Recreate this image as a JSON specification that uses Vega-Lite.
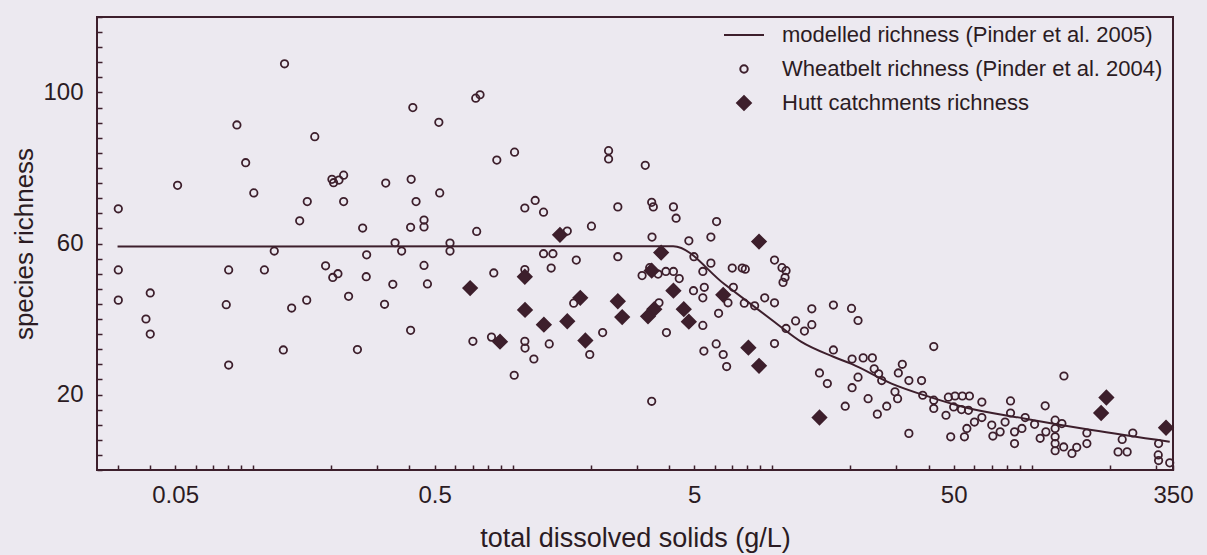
{
  "$schema": "https://vega.github.io/schema/vega-lite/v6.json",
  "width": 1076,
  "height": 453,
  "autosize": {"type": "none"},
  "padding": {"left": 97, "top": 17, "right": 34, "bottom": 85},
  "background": "#ece9f0",
  "config": {
    "view": {"stroke": "#3d1f2c", "strokeWidth": 2},
    "font": "Liberation Sans",
    "axis": {
      "grid": false,
      "domain": false,
      "tickColor": "#3d1f2c",
      "tickWidth": 1.5,
      "labelFont": "Liberation Sans",
      "labelFontSize": 24,
      "labelColor": "#2b1b23",
      "titleFont": "Liberation Sans",
      "titleFontWeight": "normal",
      "titleColor": "#2b1b23"
    }
  },
  "datasets": {
    "model": [
      {"tds": 0.03, "richness": 59.2},
      {"tds": 4.15, "richness": 59.3},
      {"tds": 6.55, "richness": 49.2},
      {"tds": 10.2, "richness": 39.2},
      {"tds": 12.9, "richness": 34.0},
      {"tds": 17.2, "richness": 30.0},
      {"tds": 20.2, "richness": 28.1},
      {"tds": 28.8, "richness": 22.9},
      {"tds": 40.6, "richness": 19.3},
      {"tds": 54.5, "richness": 16.7},
      {"tds": 94.3, "richness": 13.6},
      {"tds": 170, "richness": 10.6},
      {"tds": 340, "richness": 7.5}
    ],
    "obs": [
      {"tds": 0.0302, "richness": 69.2, "series": "Wheatbelt richness (Pinder et al. 2004)"},
      {"tds": 0.0511, "richness": 75.4, "series": "Wheatbelt richness (Pinder et al. 2004)"},
      {"tds": 0.0865, "richness": 91.4, "series": "Wheatbelt richness (Pinder et al. 2004)"},
      {"tds": 0.132, "richness": 107.6, "series": "Wheatbelt richness (Pinder et al. 2004)"},
      {"tds": 0.0935, "richness": 81.4, "series": "Wheatbelt richness (Pinder et al. 2004)"},
      {"tds": 0.1005, "richness": 73.4, "series": "Wheatbelt richness (Pinder et al. 2004)"},
      {"tds": 0.1726, "richness": 88.3, "series": "Wheatbelt richness (Pinder et al. 2004)"},
      {"tds": 0.412, "richness": 96.0, "series": "Wheatbelt richness (Pinder et al. 2004)"},
      {"tds": 0.519, "richness": 92.1, "series": "Wheatbelt richness (Pinder et al. 2004)"},
      {"tds": 0.201, "richness": 77.0, "series": "Wheatbelt richness (Pinder et al. 2004)"},
      {"tds": 0.214, "richness": 76.8, "series": "Wheatbelt richness (Pinder et al. 2004)"},
      {"tds": 0.223, "richness": 78.1, "series": "Wheatbelt richness (Pinder et al. 2004)"},
      {"tds": 0.204, "richness": 76.1, "series": "Wheatbelt richness (Pinder et al. 2004)"},
      {"tds": 0.324, "richness": 76.0, "series": "Wheatbelt richness (Pinder et al. 2004)"},
      {"tds": 0.406, "richness": 77.0, "series": "Wheatbelt richness (Pinder et al. 2004)"},
      {"tds": 0.523, "richness": 73.4, "series": "Wheatbelt richness (Pinder et al. 2004)"},
      {"tds": 0.1615, "richness": 71.1, "series": "Wheatbelt richness (Pinder et al. 2004)"},
      {"tds": 0.223, "richness": 71.1, "series": "Wheatbelt richness (Pinder et al. 2004)"},
      {"tds": 0.424, "richness": 71.1, "series": "Wheatbelt richness (Pinder et al. 2004)"},
      {"tds": 0.151, "richness": 66.0, "series": "Wheatbelt richness (Pinder et al. 2004)"},
      {"tds": 0.264, "richness": 64.1, "series": "Wheatbelt richness (Pinder et al. 2004)"},
      {"tds": 0.404, "richness": 64.3, "series": "Wheatbelt richness (Pinder et al. 2004)"},
      {"tds": 0.455, "richness": 66.2, "series": "Wheatbelt richness (Pinder et al. 2004)"},
      {"tds": 0.455, "richness": 64.4, "series": "Wheatbelt richness (Pinder et al. 2004)"},
      {"tds": 0.352, "richness": 60.2, "series": "Wheatbelt richness (Pinder et al. 2004)"},
      {"tds": 0.1205, "richness": 58.0, "series": "Wheatbelt richness (Pinder et al. 2004)"},
      {"tds": 0.373, "richness": 58.0, "series": "Wheatbelt richness (Pinder et al. 2004)"},
      {"tds": 0.2735, "richness": 57.0, "series": "Wheatbelt richness (Pinder et al. 2004)"},
      {"tds": 0.0302, "richness": 53.0, "series": "Wheatbelt richness (Pinder et al. 2004)"},
      {"tds": 0.0804, "richness": 53.0, "series": "Wheatbelt richness (Pinder et al. 2004)"},
      {"tds": 0.1104, "richness": 53.0, "series": "Wheatbelt richness (Pinder et al. 2004)"},
      {"tds": 0.19, "richness": 54.1, "series": "Wheatbelt richness (Pinder et al. 2004)"},
      {"tds": 0.2025, "richness": 51.0, "series": "Wheatbelt richness (Pinder et al. 2004)"},
      {"tds": 0.212, "richness": 52.0, "series": "Wheatbelt richness (Pinder et al. 2004)"},
      {"tds": 0.2725, "richness": 51.2, "series": "Wheatbelt richness (Pinder et al. 2004)"},
      {"tds": 0.455, "richness": 54.2, "series": "Wheatbelt richness (Pinder et al. 2004)"},
      {"tds": 0.469, "richness": 49.3, "series": "Wheatbelt richness (Pinder et al. 2004)"},
      {"tds": 0.345, "richness": 49.2, "series": "Wheatbelt richness (Pinder et al. 2004)"},
      {"tds": 0.0302, "richness": 45.0, "series": "Wheatbelt richness (Pinder et al. 2004)"},
      {"tds": 0.0401, "richness": 46.9, "series": "Wheatbelt richness (Pinder et al. 2004)"},
      {"tds": 0.0787, "richness": 43.8, "series": "Wheatbelt richness (Pinder et al. 2004)"},
      {"tds": 0.1406, "richness": 42.9, "series": "Wheatbelt richness (Pinder et al. 2004)"},
      {"tds": 0.1607, "richness": 45.0, "series": "Wheatbelt richness (Pinder et al. 2004)"},
      {"tds": 0.233, "richness": 46.0, "series": "Wheatbelt richness (Pinder et al. 2004)"},
      {"tds": 0.3206, "richness": 43.9, "series": "Wheatbelt richness (Pinder et al. 2004)"},
      {"tds": 0.0386, "richness": 40.0, "series": "Wheatbelt richness (Pinder et al. 2004)"},
      {"tds": 0.0401, "richness": 36.0, "series": "Wheatbelt richness (Pinder et al. 2004)"},
      {"tds": 0.404, "richness": 37.0, "series": "Wheatbelt richness (Pinder et al. 2004)"},
      {"tds": 0.1306, "richness": 31.8, "series": "Wheatbelt richness (Pinder et al. 2004)"},
      {"tds": 0.252, "richness": 31.9, "series": "Wheatbelt richness (Pinder et al. 2004)"},
      {"tds": 0.0804, "richness": 27.8, "series": "Wheatbelt richness (Pinder et al. 2004)"},
      {"tds": 0.573, "richness": 60.1, "series": "Wheatbelt richness (Pinder et al. 2004)"},
      {"tds": 0.573, "richness": 58.0, "series": "Wheatbelt richness (Pinder et al. 2004)"},
      {"tds": 0.72, "richness": 98.5, "series": "Wheatbelt richness (Pinder et al. 2004)"},
      {"tds": 0.748, "richness": 99.4, "series": "Wheatbelt richness (Pinder et al. 2004)"},
      {"tds": 0.868, "richness": 82.1, "series": "Wheatbelt richness (Pinder et al. 2004)"},
      {"tds": 1.016, "richness": 84.2, "series": "Wheatbelt richness (Pinder et al. 2004)"},
      {"tds": 2.34, "richness": 84.6, "series": "Wheatbelt richness (Pinder et al. 2004)"},
      {"tds": 2.34, "richness": 82.4, "series": "Wheatbelt richness (Pinder et al. 2004)"},
      {"tds": 3.24, "richness": 80.7, "series": "Wheatbelt richness (Pinder et al. 2004)"},
      {"tds": 1.113, "richness": 69.4, "series": "Wheatbelt richness (Pinder et al. 2004)"},
      {"tds": 1.22, "richness": 71.4, "series": "Wheatbelt richness (Pinder et al. 2004)"},
      {"tds": 1.314, "richness": 68.3, "series": "Wheatbelt richness (Pinder et al. 2004)"},
      {"tds": 2.54, "richness": 69.7, "series": "Wheatbelt richness (Pinder et al. 2004)"},
      {"tds": 3.43, "richness": 70.9, "series": "Wheatbelt richness (Pinder et al. 2004)"},
      {"tds": 3.48, "richness": 69.7, "series": "Wheatbelt richness (Pinder et al. 2004)"},
      {"tds": 4.16, "richness": 69.7, "series": "Wheatbelt richness (Pinder et al. 2004)"},
      {"tds": 4.26, "richness": 66.7, "series": "Wheatbelt richness (Pinder et al. 2004)"},
      {"tds": 6.1, "richness": 65.8, "series": "Wheatbelt richness (Pinder et al. 2004)"},
      {"tds": 0.726, "richness": 63.2, "series": "Wheatbelt richness (Pinder et al. 2004)"},
      {"tds": 2.01, "richness": 64.6, "series": "Wheatbelt richness (Pinder et al. 2004)"},
      {"tds": 1.622, "richness": 63.3, "series": "Wheatbelt richness (Pinder et al. 2004)"},
      {"tds": 3.44, "richness": 61.7, "series": "Wheatbelt richness (Pinder et al. 2004)"},
      {"tds": 4.77, "richness": 60.7, "series": "Wheatbelt richness (Pinder et al. 2004)"},
      {"tds": 5.8, "richness": 61.7, "series": "Wheatbelt richness (Pinder et al. 2004)"},
      {"tds": 1.314, "richness": 57.3, "series": "Wheatbelt richness (Pinder et al. 2004)"},
      {"tds": 1.428, "richness": 57.3, "series": "Wheatbelt richness (Pinder et al. 2004)"},
      {"tds": 2.54, "richness": 56.5, "series": "Wheatbelt richness (Pinder et al. 2004)"},
      {"tds": 1.757, "richness": 55.6, "series": "Wheatbelt richness (Pinder et al. 2004)"},
      {"tds": 4.99, "richness": 56.5, "series": "Wheatbelt richness (Pinder et al. 2004)"},
      {"tds": 0.845, "richness": 52.2, "series": "Wheatbelt richness (Pinder et al. 2004)"},
      {"tds": 1.113, "richness": 53.1, "series": "Wheatbelt richness (Pinder et al. 2004)"},
      {"tds": 1.406, "richness": 53.5, "series": "Wheatbelt richness (Pinder et al. 2004)"},
      {"tds": 3.15, "richness": 51.5, "series": "Wheatbelt richness (Pinder et al. 2004)"},
      {"tds": 3.37, "richness": 53.6, "series": "Wheatbelt richness (Pinder et al. 2004)"},
      {"tds": 3.63, "richness": 51.9, "series": "Wheatbelt richness (Pinder et al. 2004)"},
      {"tds": 3.89, "richness": 52.6, "series": "Wheatbelt richness (Pinder et al. 2004)"},
      {"tds": 4.16, "richness": 52.6, "series": "Wheatbelt richness (Pinder et al. 2004)"},
      {"tds": 4.38, "richness": 50.7, "series": "Wheatbelt richness (Pinder et al. 2004)"},
      {"tds": 5.8, "richness": 54.8, "series": "Wheatbelt richness (Pinder et al. 2004)"},
      {"tds": 5.4, "richness": 52.6, "series": "Wheatbelt richness (Pinder et al. 2004)"},
      {"tds": 7.01, "richness": 53.5, "series": "Wheatbelt richness (Pinder et al. 2004)"},
      {"tds": 7.66, "richness": 53.5, "series": "Wheatbelt richness (Pinder et al. 2004)"},
      {"tds": 7.87, "richness": 53.2, "series": "Wheatbelt richness (Pinder et al. 2004)"},
      {"tds": 10.2, "richness": 55.6, "series": "Wheatbelt richness (Pinder et al. 2004)"},
      {"tds": 10.9, "richness": 53.6, "series": "Wheatbelt richness (Pinder et al. 2004)"},
      {"tds": 11.3, "richness": 52.8, "series": "Wheatbelt richness (Pinder et al. 2004)"},
      {"tds": 11.2, "richness": 51.0, "series": "Wheatbelt richness (Pinder et al. 2004)"},
      {"tds": 11.0, "richness": 49.7, "series": "Wheatbelt richness (Pinder et al. 2004)"},
      {"tds": 4.97, "richness": 47.5, "series": "Wheatbelt richness (Pinder et al. 2004)"},
      {"tds": 5.47, "richness": 48.4, "series": "Wheatbelt richness (Pinder et al. 2004)"},
      {"tds": 5.4, "richness": 45.6, "series": "Wheatbelt richness (Pinder et al. 2004)"},
      {"tds": 7.08, "richness": 48.4, "series": "Wheatbelt richness (Pinder et al. 2004)"},
      {"tds": 6.75, "richness": 44.3, "series": "Wheatbelt richness (Pinder et al. 2004)"},
      {"tds": 7.8, "richness": 44.2, "series": "Wheatbelt richness (Pinder et al. 2004)"},
      {"tds": 8.55, "richness": 43.5, "series": "Wheatbelt richness (Pinder et al. 2004)"},
      {"tds": 9.35, "richness": 45.6, "series": "Wheatbelt richness (Pinder et al. 2004)"},
      {"tds": 10.2, "richness": 44.3, "series": "Wheatbelt richness (Pinder et al. 2004)"},
      {"tds": 6.21, "richness": 41.5, "series": "Wheatbelt richness (Pinder et al. 2004)"},
      {"tds": 1.717, "richness": 44.2, "series": "Wheatbelt richness (Pinder et al. 2004)"},
      {"tds": 3.66, "richness": 44.3, "series": "Wheatbelt richness (Pinder et al. 2004)"},
      {"tds": 11.3, "richness": 37.5, "series": "Wheatbelt richness (Pinder et al. 2004)"},
      {"tds": 12.3, "richness": 39.5, "series": "Wheatbelt richness (Pinder et al. 2004)"},
      {"tds": 0.702, "richness": 34.1, "series": "Wheatbelt richness (Pinder et al. 2004)"},
      {"tds": 0.828, "richness": 35.2, "series": "Wheatbelt richness (Pinder et al. 2004)"},
      {"tds": 1.113, "richness": 34.1, "series": "Wheatbelt richness (Pinder et al. 2004)"},
      {"tds": 1.115, "richness": 32.3, "series": "Wheatbelt richness (Pinder et al. 2004)"},
      {"tds": 1.382, "richness": 33.4, "series": "Wheatbelt richness (Pinder et al. 2004)"},
      {"tds": 1.206, "richness": 29.4, "series": "Wheatbelt richness (Pinder et al. 2004)"},
      {"tds": 2.22, "richness": 36.4, "series": "Wheatbelt richness (Pinder et al. 2004)"},
      {"tds": 1.98, "richness": 30.6, "series": "Wheatbelt richness (Pinder et al. 2004)"},
      {"tds": 3.91, "richness": 36.4, "series": "Wheatbelt richness (Pinder et al. 2004)"},
      {"tds": 5.4, "richness": 38.3, "series": "Wheatbelt richness (Pinder et al. 2004)"},
      {"tds": 1.013, "richness": 25.1, "series": "Wheatbelt richness (Pinder et al. 2004)"},
      {"tds": 5.45, "richness": 31.5, "series": "Wheatbelt richness (Pinder et al. 2004)"},
      {"tds": 6.08, "richness": 33.4, "series": "Wheatbelt richness (Pinder et al. 2004)"},
      {"tds": 6.47, "richness": 30.6, "series": "Wheatbelt richness (Pinder et al. 2004)"},
      {"tds": 6.67, "richness": 27.4, "series": "Wheatbelt richness (Pinder et al. 2004)"},
      {"tds": 10.2, "richness": 33.5, "series": "Wheatbelt richness (Pinder et al. 2004)"},
      {"tds": 3.43, "richness": 18.2, "series": "Wheatbelt richness (Pinder et al. 2004)"},
      {"tds": 13.3, "richness": 36.8, "series": "Wheatbelt richness (Pinder et al. 2004)"},
      {"tds": 14.2, "richness": 38.5, "series": "Wheatbelt richness (Pinder et al. 2004)"},
      {"tds": 14.2, "richness": 42.7, "series": "Wheatbelt richness (Pinder et al. 2004)"},
      {"tds": 17.2, "richness": 43.7, "series": "Wheatbelt richness (Pinder et al. 2004)"},
      {"tds": 20.2, "richness": 42.8, "series": "Wheatbelt richness (Pinder et al. 2004)"},
      {"tds": 21.4, "richness": 39.6, "series": "Wheatbelt richness (Pinder et al. 2004)"},
      {"tds": 17.2, "richness": 31.8, "series": "Wheatbelt richness (Pinder et al. 2004)"},
      {"tds": 15.2, "richness": 25.7, "series": "Wheatbelt richness (Pinder et al. 2004)"},
      {"tds": 16.3, "richness": 22.9, "series": "Wheatbelt richness (Pinder et al. 2004)"},
      {"tds": 19.1, "richness": 16.9, "series": "Wheatbelt richness (Pinder et al. 2004)"},
      {"tds": 20.3, "richness": 29.4, "series": "Wheatbelt richness (Pinder et al. 2004)"},
      {"tds": 22.4, "richness": 29.7, "series": "Wheatbelt richness (Pinder et al. 2004)"},
      {"tds": 24.3, "richness": 29.7, "series": "Wheatbelt richness (Pinder et al. 2004)"},
      {"tds": 20.3, "richness": 21.8, "series": "Wheatbelt richness (Pinder et al. 2004)"},
      {"tds": 21.4, "richness": 24.6, "series": "Wheatbelt richness (Pinder et al. 2004)"},
      {"tds": 24.7, "richness": 26.8, "series": "Wheatbelt richness (Pinder et al. 2004)"},
      {"tds": 25.7, "richness": 25.5, "series": "Wheatbelt richness (Pinder et al. 2004)"},
      {"tds": 26.4, "richness": 23.7, "series": "Wheatbelt richness (Pinder et al. 2004)"},
      {"tds": 23.4, "richness": 18.9, "series": "Wheatbelt richness (Pinder et al. 2004)"},
      {"tds": 25.4, "richness": 14.8, "series": "Wheatbelt richness (Pinder et al. 2004)"},
      {"tds": 27.6, "richness": 16.9, "series": "Wheatbelt richness (Pinder et al. 2004)"},
      {"tds": 31.7, "richness": 28.0, "series": "Wheatbelt richness (Pinder et al. 2004)"},
      {"tds": 30.6, "richness": 25.7, "series": "Wheatbelt richness (Pinder et al. 2004)"},
      {"tds": 33.6, "richness": 23.7, "series": "Wheatbelt richness (Pinder et al. 2004)"},
      {"tds": 37.6, "richness": 23.7, "series": "Wheatbelt richness (Pinder et al. 2004)"},
      {"tds": 29.7, "richness": 20.7, "series": "Wheatbelt richness (Pinder et al. 2004)"},
      {"tds": 30.4, "richness": 18.9, "series": "Wheatbelt richness (Pinder et al. 2004)"},
      {"tds": 41.9, "richness": 32.7, "series": "Wheatbelt richness (Pinder et al. 2004)"},
      {"tds": 33.6, "richness": 9.7, "series": "Wheatbelt richness (Pinder et al. 2004)"},
      {"tds": 38.0, "richness": 19.8, "series": "Wheatbelt richness (Pinder et al. 2004)"},
      {"tds": 41.9, "richness": 18.5, "series": "Wheatbelt richness (Pinder et al. 2004)"},
      {"tds": 41.9, "richness": 16.3, "series": "Wheatbelt richness (Pinder et al. 2004)"},
      {"tds": 46.7, "richness": 14.5, "series": "Wheatbelt richness (Pinder et al. 2004)"},
      {"tds": 47.7, "richness": 19.3, "series": "Wheatbelt richness (Pinder et al. 2004)"},
      {"tds": 50.6, "richness": 19.6, "series": "Wheatbelt richness (Pinder et al. 2004)"},
      {"tds": 54.0, "richness": 19.6, "series": "Wheatbelt richness (Pinder et al. 2004)"},
      {"tds": 57.5, "richness": 19.6, "series": "Wheatbelt richness (Pinder et al. 2004)"},
      {"tds": 50.0, "richness": 16.7, "series": "Wheatbelt richness (Pinder et al. 2004)"},
      {"tds": 53.6, "richness": 16.0, "series": "Wheatbelt richness (Pinder et al. 2004)"},
      {"tds": 57.0, "richness": 15.8, "series": "Wheatbelt richness (Pinder et al. 2004)"},
      {"tds": 64.2, "richness": 18.0, "series": "Wheatbelt richness (Pinder et al. 2004)"},
      {"tds": 64.2, "richness": 13.9, "series": "Wheatbelt richness (Pinder et al. 2004)"},
      {"tds": 60.1, "richness": 12.7, "series": "Wheatbelt richness (Pinder et al. 2004)"},
      {"tds": 56.2, "richness": 11.0, "series": "Wheatbelt richness (Pinder et al. 2004)"},
      {"tds": 55.0, "richness": 8.8, "series": "Wheatbelt richness (Pinder et al. 2004)"},
      {"tds": 48.7, "richness": 8.8, "series": "Wheatbelt richness (Pinder et al. 2004)"},
      {"tds": 70.1, "richness": 11.9, "series": "Wheatbelt richness (Pinder et al. 2004)"},
      {"tds": 70.8, "richness": 9.0, "series": "Wheatbelt richness (Pinder et al. 2004)"},
      {"tds": 75.5, "richness": 10.1, "series": "Wheatbelt richness (Pinder et al. 2004)"},
      {"tds": 78.9, "richness": 12.7, "series": "Wheatbelt richness (Pinder et al. 2004)"},
      {"tds": 82.8, "richness": 18.3, "series": "Wheatbelt richness (Pinder et al. 2004)"},
      {"tds": 82.8, "richness": 15.1, "series": "Wheatbelt richness (Pinder et al. 2004)"},
      {"tds": 85.8, "richness": 10.1, "series": "Wheatbelt richness (Pinder et al. 2004)"},
      {"tds": 85.8, "richness": 7.0, "series": "Wheatbelt richness (Pinder et al. 2004)"},
      {"tds": 94.3, "richness": 13.9, "series": "Wheatbelt richness (Pinder et al. 2004)"},
      {"tds": 91.6, "richness": 11.0, "series": "Wheatbelt richness (Pinder et al. 2004)"},
      {"tds": 102.5, "richness": 12.1, "series": "Wheatbelt richness (Pinder et al. 2004)"},
      {"tds": 112.6, "richness": 17.0, "series": "Wheatbelt richness (Pinder et al. 2004)"},
      {"tds": 113.3, "richness": 10.1, "series": "Wheatbelt richness (Pinder et al. 2004)"},
      {"tds": 107.7, "richness": 8.4, "series": "Wheatbelt richness (Pinder et al. 2004)"},
      {"tds": 123, "richness": 13.2, "series": "Wheatbelt richness (Pinder et al. 2004)"},
      {"tds": 123, "richness": 11.0, "series": "Wheatbelt richness (Pinder et al. 2004)"},
      {"tds": 123, "richness": 8.8, "series": "Wheatbelt richness (Pinder et al. 2004)"},
      {"tds": 123, "richness": 7.0, "series": "Wheatbelt richness (Pinder et al. 2004)"},
      {"tds": 130.6, "richness": 12.3, "series": "Wheatbelt richness (Pinder et al. 2004)"},
      {"tds": 132.7, "richness": 6.1, "series": "Wheatbelt richness (Pinder et al. 2004)"},
      {"tds": 123, "richness": 5.1, "series": "Wheatbelt richness (Pinder et al. 2004)"},
      {"tds": 133, "richness": 24.9, "series": "Wheatbelt richness (Pinder et al. 2004)"},
      {"tds": 142.8, "richness": 4.4, "series": "Wheatbelt richness (Pinder et al. 2004)"},
      {"tds": 149, "richness": 6.0, "series": "Wheatbelt richness (Pinder et al. 2004)"},
      {"tds": 163, "richness": 7.0, "series": "Wheatbelt richness (Pinder et al. 2004)"},
      {"tds": 163, "richness": 9.8, "series": "Wheatbelt richness (Pinder et al. 2004)"},
      {"tds": 215, "richness": 4.8, "series": "Wheatbelt richness (Pinder et al. 2004)"},
      {"tds": 233, "richness": 4.8, "series": "Wheatbelt richness (Pinder et al. 2004)"},
      {"tds": 223, "richness": 8.1, "series": "Wheatbelt richness (Pinder et al. 2004)"},
      {"tds": 245, "richness": 9.8, "series": "Wheatbelt richness (Pinder et al. 2004)"},
      {"tds": 308, "richness": 7.0, "series": "Wheatbelt richness (Pinder et al. 2004)"},
      {"tds": 307, "richness": 4.0, "series": "Wheatbelt richness (Pinder et al. 2004)"},
      {"tds": 308, "richness": 2.5, "series": "Wheatbelt richness (Pinder et al. 2004)"},
      {"tds": 340, "richness": 1.9, "series": "Wheatbelt richness (Pinder et al. 2004)"},
      {"tds": 1.52, "richness": 62.3, "series": "Hutt catchments richness"},
      {"tds": 0.685, "richness": 48.2, "series": "Hutt catchments richness"},
      {"tds": 1.113, "richness": 51.2, "series": "Hutt catchments richness"},
      {"tds": 1.115, "richness": 42.4, "series": "Hutt catchments richness"},
      {"tds": 1.318, "richness": 38.5, "series": "Hutt catchments richness"},
      {"tds": 1.622, "richness": 39.4, "series": "Hutt catchments richness"},
      {"tds": 1.82, "richness": 45.6, "series": "Hutt catchments richness"},
      {"tds": 1.904, "richness": 34.3, "series": "Hutt catchments richness"},
      {"tds": 0.893, "richness": 34.0, "series": "Hutt catchments richness"},
      {"tds": 2.54, "richness": 44.7, "series": "Hutt catchments richness"},
      {"tds": 2.64, "richness": 40.5, "series": "Hutt catchments richness"},
      {"tds": 3.32, "richness": 40.7, "series": "Hutt catchments richness"},
      {"tds": 3.51, "richness": 42.6, "series": "Hutt catchments richness"},
      {"tds": 3.43, "richness": 52.8, "series": "Hutt catchments richness"},
      {"tds": 3.73, "richness": 57.6, "series": "Hutt catchments richness"},
      {"tds": 4.16, "richness": 47.5, "series": "Hutt catchments richness"},
      {"tds": 4.56, "richness": 42.6, "series": "Hutt catchments richness"},
      {"tds": 4.77, "richness": 39.3, "series": "Hutt catchments richness"},
      {"tds": 6.47, "richness": 46.4, "series": "Hutt catchments richness"},
      {"tds": 8.89, "richness": 60.5, "series": "Hutt catchments richness"},
      {"tds": 8.09, "richness": 32.4, "series": "Hutt catchments richness"},
      {"tds": 8.89, "richness": 27.6, "series": "Hutt catchments richness"},
      {"tds": 15.2, "richness": 13.9, "series": "Hutt catchments richness"},
      {"tds": 193.8, "richness": 19.2, "series": "Hutt catchments richness"},
      {"tds": 185, "richness": 15.1, "series": "Hutt catchments richness"},
      {"tds": 329, "richness": 11.2, "series": "Hutt catchments richness"}
    ]
  },
  "layer": [
    {
      "data": {"name": "model"},
      "mark": {"type": "line", "color": "#3d1f2c", "strokeWidth": 2, "interpolate": "monotone"},
      "encoding": {
        "x": {
          "field": "tds", "type": "quantitative",
          "scale": {"type": "log", "domain": [0.025, 350], "nice": false},
          "title": "total dissolved solids (g/L)",
          "axis": {
            "values": [0.03, 0.04, 0.05, 0.06, 0.07, 0.08, 0.09, 0.1, 0.2, 0.3, 0.4, 0.5, 0.6, 0.7, 0.8, 0.9, 1, 2, 3, 4, 5, 6, 7, 8, 9, 10, 20, 30, 40, 50, 60, 70, 80, 90, 100, 200, 300, 350],
            "tickCount": 200,
            "labelExpr": "indexof([0.05, 0.5, 5, 50, 350], datum.value) >= 0 ? datum.value + '' : ''",
            "labelOverlap": false,
            "tickSize": -5,
            "labelPadding": 18,
            "labelFlush": false,
            "titleFontSize": 27,
            "titlePadding": 18
          }
        },
        "y": {
          "field": "richness", "type": "quantitative",
          "scale": {"domain": [0, 120], "nice": false},
          "title": "species richness",
          "axis": {
            "values": [0, 4, 8, 12, 16, 20, 24, 28, 32, 36, 40, 44, 48, 52, 56, 60, 64, 68, 72, 76, 80, 84, 88, 92, 96, 100, 104, 108, 112, 116, 120],
            "tickCount": 200,
            "labelExpr": "indexof([20, 60, 100], datum.value) >= 0 ? datum.value + '' : ''",
            "labelOverlap": false,
            "tickSize": -5,
            "labelPadding": 19,
            "labelFlush": false,
            "titleFontSize": 26,
            "titlePadding": 5
          }
        }
      }
    },
    {
      "data": {"name": "obs"},
      "mark": {"type": "point", "stroke": "#3d1f2c", "strokeWidth": 1.8, "opacity": 1},
      "encoding": {
        "x": {"field": "tds", "type": "quantitative"},
        "y": {"field": "richness", "type": "quantitative"},
        "shape": {
          "field": "series", "type": "nominal",
          "scale": {
            "domain": ["modelled richness (Pinder et al. 2005)", "Wheatbelt richness (Pinder et al. 2004)", "Hutt catchments richness"],
            "range": ["stroke", "circle", "diamond"]
          },
          "legend": {
            "title": null,
            "orient": "none",
            "legendX": 626,
            "legendY": -3,
            "labelFont": "Liberation Sans",
            "labelFontSize": 22,
            "labelColor": "#2b1b23",
            "labelLimit": 500,
            "labelOffset": 17,
            "symbolStrokeColor": "#3d1f2c",
            "symbolStrokeWidth": 2,
            "rowPadding": 12,
            "padding": 0
          }
        },
        "fill": {
          "field": "series", "type": "nominal",
          "scale": {
            "domain": ["modelled richness (Pinder et al. 2005)", "Wheatbelt richness (Pinder et al. 2004)", "Hutt catchments richness"],
            "range": ["transparent", "transparent", "#3d1f2c"]
          }
        },
        "size": {
          "field": "series", "type": "nominal",
          "scale": {
            "type": "ordinal",
            "domain": ["modelled richness (Pinder et al. 2005)", "Wheatbelt richness (Pinder et al. 2004)", "Hutt catchments richness"],
            "range": [1600, 55, 190]
          }
        }
      }
    }
  ]
}
